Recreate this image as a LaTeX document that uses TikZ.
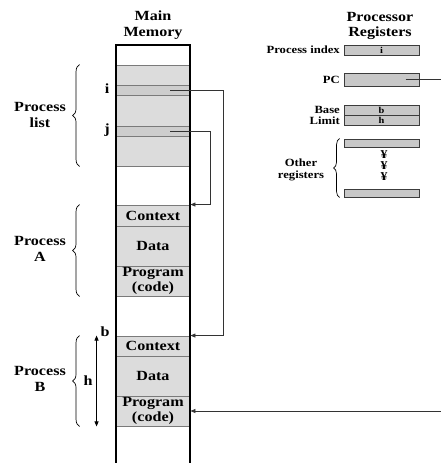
\documentclass[tikz,border=0pt]{standalone}
\usepackage{fontspec}
\setmainfont{Liberation Serif}[FakeStretch=1.15]
\usetikzlibrary{arrows.meta,decorations.pathreplacing}
\definecolor{memF}{HTML}{DCDCDC}
\definecolor{slotF}{HTML}{CDCDCD}
\definecolor{cellD}{HTML}{7A7A7A}
\definecolor{regF}{HTML}{C8C8C8}
\definecolor{regD}{HTML}{3C3C3C}
\definecolor{arrC}{HTML}{333333}
\tikzset{
  big/.style={font=\fontsize{14}{15.5}\selectfont\bfseries, align=center, inner sep=0pt},
  small/.style={font=\fontsize{11}{12.5}\selectfont\bfseries, align=center, inner sep=0pt},
  cell/.style={big, draw=cellD, fill=memF, line width=0.9pt, minimum width=74pt},
  slot/.style={cell, fill=slotF, minimum height=10pt},
  reg/.style={draw=regD, fill=regF, line width=0.9pt, minimum width=75pt, inner sep=0pt,
              font=\fontsize{9}{9}\selectfont\bfseries},
  memcol/.style={draw=black, line width=1.8pt, minimum width=74pt, inner sep=0pt},
  arr/.style={-{Triangle[length=5pt,width=4pt]}, draw=arrC, line width=0.8pt},
  harr/.style={{Triangle[length=5pt,width=4pt]}-{Triangle[length=5pt,width=4pt]}, draw=black, line width=0.8pt},
  brc/.style={decorate, decoration={brace, amplitude=7pt}, line width=0.7pt},
}
\begin{document}
\begin{tikzpicture}[x=1pt, y=-1pt]
\useasboundingbox (0,0) rectangle (440,463);
% main memory
\node[big] (mmT) at (153,25) {Main\\Memory};
\node[cell, minimum height=101pt] (plist) at (153,115.5) {};
\node[slot] (slotI) at (153,90) {};
\node[slot] (slotJ) at (153,131) {};
\node[cell, minimum height=21pt] (ctxA) at (153,215.5) {Context};
\node[cell, minimum height=40pt] (dataA) at (153,246) {Data};
\node[cell, minimum height=30pt] (progA) at (153,281) {Program\\(code)};
\node[cell, minimum height=20pt] (ctxB) at (153,346) {Context};
\node[cell, minimum height=40pt] (dataB) at (153,376) {Data};
\node[cell, minimum height=30pt] (progB) at (153,411) {Program\\(code)};
\node[memcol, minimum height=430pt] (mem) at (153,260) {};
\node[big] (iLab) at (107,89) {i};
\node[big] (jLab) at (107,130) {j};
% braces on the left
\draw[brc] ([xshift=-36]plist.south west) -- ([xshift=-36]plist.north west);
\node[big] (plistL) at (40,115) {Process\\list};
\draw[brc] ([xshift=-36]progA.south west) -- ([xshift=-36]ctxA.north west);
\node[big] (procA) at (40,249) {Process\\A};
\draw[brc] ([xshift=-36]progB.south west) -- ([xshift=-36]ctxB.north west);
\node[big] (procB) at (40,379) {Process\\B};
\draw[harr] ([xshift=-19]ctxB.north west) -- ([xshift=-19]progB.south west);
\node[big] (bLab) at (105,332) {b};
\node[big] (hLab) at (88,381) {h};
% processor registers
\node[big] (prT) at (380,26) {Processor\\Registers};
\node[reg, minimum height=10pt] (pidx) at (381.5,50) {i};
\node[reg, minimum height=13pt] (pc) at (381.5,79.5) {};
\node[reg, minimum height=10pt] (base) at (381.5,110) {b};
\node[reg, minimum height=10pt] (limit) at (381.5,120) {h};
\node[reg, minimum height=8pt] (oth1) at (381.5,143) {};
\node[reg, minimum height=8pt] (oth2) at (381.5,193) {};
\node[small, anchor=east] (pidxL) at (340,50) {Process index};
\node[small, anchor=east] (pcL) at (340,80) {PC};
\node[small, anchor=east] (baseL) at (340,110) {Base};
\node[small, anchor=east] (limitL) at (340,120.5) {Limit};
\node[small, font=\fontsize{12}{12}\selectfont\bfseries] (dot1) at (384,155) {¥};
\node[small, font=\fontsize{12}{12}\selectfont\bfseries] (dot2) at (384,166) {¥};
\node[small, font=\fontsize{12}{12}\selectfont\bfseries] (dot3) at (384,177) {¥};
\draw[brc, decoration={amplitude=6pt}] ([xshift=-4]oth2.south west) -- ([xshift=-4]oth1.north west);
\node[small] (othL) at (301,170) {Other\\registers};
% pointers
\draw[arr] ([xshift=17]slotI.center) -- ++(53,0) |- (ctxB.north east);
\draw[arr] ([xshift=17]slotJ.center) -- ++(40,0) |- (ctxA.north east);
\draw[arr] ([xshift=24]pc.center) -- ++(45,0) |- (progB.east);
\end{tikzpicture}
\end{document}
